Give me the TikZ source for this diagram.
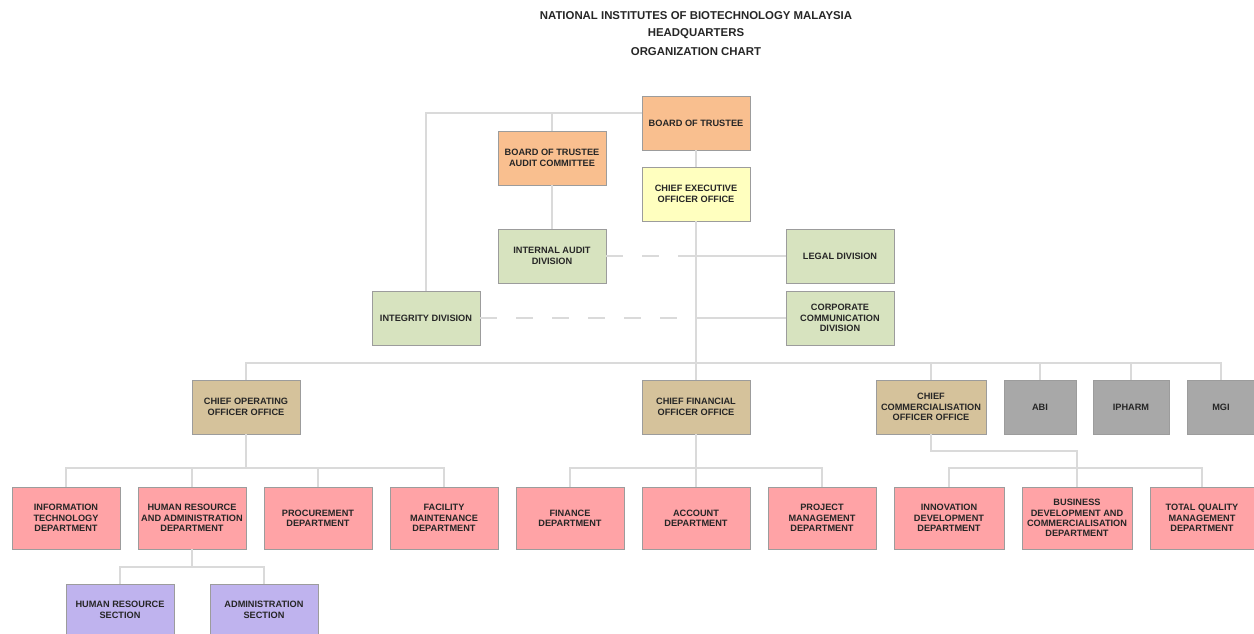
\documentclass[tikz,border=0pt]{standalone}
\usepackage{fontspec}
\setmainfont{Liberation Sans}
\begin{document}
\begin{tikzpicture}[x=1pt,y=-1pt,
  box/.style={draw=boxline, line width=0.7pt, align=center, inner sep=0pt,
    minimum width=108pt, minimum height=54pt,
    font=\bfseries\fontsize{9.2}{10.4}\selectfont, text=black!85},
  deptbox/.style={box, fill=cpink, minimum height=62pt},
  conn/.style={draw=connline, line width=1.3pt},
  dconn/.style={conn, dash pattern=on 17pt off 19pt},
  titletext/.style={font=\bfseries\fontsize{11.4}{13}\selectfont, text=black!85}]
\definecolor{boxline}{HTML}{9C9C9C}
\definecolor{connline}{HTML}{DADADA}
\definecolor{corange}{HTML}{F9BF8F}
\definecolor{cyellow}{HTML}{FFFFBF}
\definecolor{cgreen}{HTML}{D7E3BF}
\definecolor{ctan}{HTML}{D5C29B}
\definecolor{cgray}{HTML}{A8A8A8}
\definecolor{cpink}{HTML}{FFA3A6}
\definecolor{clav}{HTML}{BFB3EE}
\useasboundingbox (0,0) rectangle (1254,634);
% titles
\node[titletext] (t1) at (696,16) {NATIONAL INSTITUTES OF BIOTECHNOLOGY MALAYSIA};
\node[titletext] (t2) at (696,34) {HEADQUARTERS};
\node[titletext] (t3) at (696,52) {ORGANIZATION CHART};
% boxes
\node[box, fill=corange] (bot) at (696,123) {BOARD OF TRUSTEE};
\node[box, fill=corange] (botac) at (552,158) {BOARD OF TRUSTEE\\AUDIT COMMITTEE};
\node[box, fill=cyellow] (ceo) at (696,194) {CHIEF EXECUTIVE\\OFFICER OFFICE};
\node[box, fill=cgreen] (iad) at (552,256) {INTERNAL AUDIT\\DIVISION};
\node[box, fill=cgreen] (legal) at (840,256) {LEGAL DIVISION};
\node[box, fill=cgreen] (integ) at (426,318) {INTEGRITY DIVISION};
\node[box, fill=cgreen] (corp) at (840,318) {CORPORATE\\COMMUNICATION\\DIVISION};
\node[box, fill=ctan] (coo) at (246,407) {CHIEF OPERATING\\OFFICER OFFICE};
\node[box, fill=ctan] (cfo) at (696,407) {CHIEF FINANCIAL\\OFFICER OFFICE};
\node[box, fill=ctan, minimum width=110pt] (cco) at (931,407) {CHIEF\\COMMERCIALISATION\\OFFICER OFFICE};
\node[box, fill=cgray, minimum width=72pt] (abi) at (1040,407) {ABI};
\node[box, fill=cgray, minimum width=76pt] (ipharm) at (1131,407) {IPHARM};
\node[box, fill=cgray, minimum width=68pt] (mgi) at (1221,407) {MGI};
\node[deptbox] (it) at (66,518) {INFORMATION\\TECHNOLOGY\\DEPARTMENT};
\node[deptbox] (hra) at (192,518) {HUMAN RESOURCE\\AND ADMINISTRATION\\DEPARTMENT};
\node[deptbox] (proc) at (318,518) {PROCUREMENT\\DEPARTMENT};
\node[deptbox] (fac) at (444,518) {FACILITY\\MAINTENANCE\\DEPARTMENT};
\node[deptbox] (fin) at (570,518) {FINANCE\\DEPARTMENT};
\node[deptbox] (acc) at (696,518) {ACCOUNT\\DEPARTMENT};
\node[deptbox] (pm) at (822,518) {PROJECT\\MANAGEMENT\\DEPARTMENT};
\node[deptbox, minimum width=110pt] (inno) at (949,518) {INNOVATION\\DEVELOPMENT\\DEPARTMENT};
\node[deptbox, minimum width=110pt] (bus) at (1077,518) {BUSINESS\\DEVELOPMENT AND\\COMMERCIALISATION\\DEPARTMENT};
\node[deptbox, minimum width=104pt] (tqm) at (1202,518) {TOTAL QUALITY\\MANAGEMENT\\DEPARTMENT};
\node[box, fill=clav, minimum height=52pt] (hrs) at (120,610) {HUMAN RESOURCE\\SECTION};
\node[box, fill=clav, minimum height=52pt] (adm) at (264,610) {ADMINISTRATION\\SECTION};
% level coordinates
\coordinate (ytop) at (0,113);
\coordinate (ybus) at (0,363);
\coordinate (ydep) at (0,468);
\coordinate (ysec) at (0,567);
\coordinate (ycco) at (0,451);
\coordinate (jtop) at (bot.west |- ytop);
\coordinate (jac) at (botac.north |- ytop);
\coordinate (jleg) at (ceo.south |- iad.east);
\coordinate (jcorp) at (ceo.south |- integ.east);
% top connectors
\draw[conn] (jtop) -| (integ.north);
\draw[conn] (jac) -- (botac.north);
\draw[conn] (botac.south) -- (iad.north);
\draw[conn] (bot.south) -- (ceo.north);
\draw[conn] (ceo.south) -- (cfo.north);
\draw[dconn] (iad.east) -- (jleg);
\draw[conn] (jleg) -- (legal.west);
\draw[dconn] (integ.east) -- (jcorp);
\draw[conn] (jcorp) -- (corp.west);
% bus to chiefs and institutes
\draw[conn] (coo.north) |- (ybus -| mgi.north) -- (mgi.north);
\draw[conn] (cco.north) -- (cco.north |- ybus);
\draw[conn] (abi.north) -- (abi.north |- ybus);
\draw[conn] (ipharm.north) -- (ipharm.north |- ybus);
% COO departments
\draw[conn] (coo.south) -- (coo.south |- ydep);
\draw[conn] (it.north) |- (ydep -| fac.north) -- (fac.north);
\draw[conn] (hra.north) -- (hra.north |- ydep);
\draw[conn] (proc.north) -- (proc.north |- ydep);
% CFO departments
\draw[conn] (cfo.south) -- (acc.north);
\draw[conn] (fin.north) |- (ydep -| pm.north) -- (pm.north);
% CCO departments
\draw[conn] (cco.south) |- (ycco -| bus.north) -- (bus.north);
\draw[conn] (inno.north) |- (ydep -| tqm.north) -- (tqm.north);
% sections
\draw[conn] (hra.south) -- (hra.south |- ysec);
\draw[conn] (hrs.north) |- (ysec -| adm.north) -- (adm.north);
\end{tikzpicture}
\end{document}
